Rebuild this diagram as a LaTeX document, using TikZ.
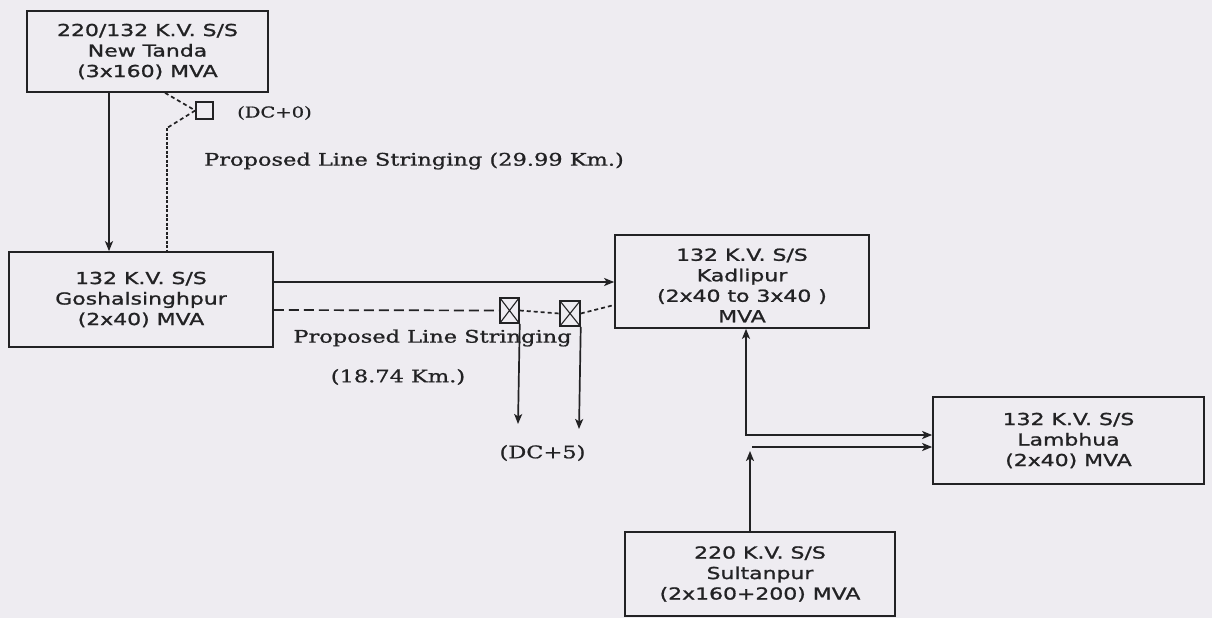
\documentclass[tikz,border=0pt]{standalone}
\usepackage{fontspec}
\usetikzlibrary{arrows.meta}
\newfontfamily\boxfont[FakeStretch=1.33,FakeBold=1.2]{DejaVu Sans}
\newfontfamily\labfont[FakeStretch=1.3,FakeBold=1.0]{DejaVu Serif}
\definecolor{bg}{RGB}{238,236,241}
\definecolor{ink}{RGB}{34,34,36}
\begin{document}
\begin{tikzpicture}[x=1pt,y=-1pt,
  box/.style={draw=ink, line width=1.7pt, inner sep=0pt, align=center,
    font=\boxfont\fontsize{16.5}{20.5}\selectfont, text=ink},
  lab/.style={inner sep=0pt, font=\labfont\fontsize{17.3}{20}\selectfont, text=ink},
  smalllab/.style={inner sep=0pt, font=\labfont\fontsize{15}{16}\selectfont, text=ink},
  conn/.style={draw=ink, line width=1.7pt},
  tip/.style={-{Stealth[length=10pt,width=8pt,inset=2.5pt]}},
  bothtips/.style={{Stealth[length=10pt,width=8pt,inset=2.5pt]}-{Stealth[length=10pt,width=8pt,inset=2.5pt]}},
  longdash/.style={dash pattern=on 10pt off 5pt},
  shortdash/.style={dash pattern=on 4pt off 3pt},
  densedot/.style={dash pattern=on 3pt off 1.5pt},
  sqbox/.style={draw=ink, line width=1.5pt, inner sep=0pt},
  xbox/.style={sqbox, path picture={
    \draw[ink, line width=1.1pt] (path picture bounding box.north west) -- (path picture bounding box.south east)
      (path picture bounding box.north east) -- (path picture bounding box.south west);}}
]
\fill[bg] (0,0) rectangle (1212,618);
\useasboundingbox (0,0) rectangle (1212,618);

% substations
\node[box, minimum width=241pt, minimum height=81pt] (tanda) at (147.5,51.5)
  {220/132 K.V. S/S\\New Tanda\\(3x160) MVA};
\node[box, minimum width=264pt, minimum height=95pt] (gosh) at (141,299.5)
  {132 K.V. S/S\\Goshalsinghpur\\(2x40) MVA};
\node[box, minimum width=254pt, minimum height=93pt] (kad) at (742,281.5)
  {\rule{0pt}{20pt}132 K.V. S/S\\Kadlipur\\(2x40 to 3x40 )\\MVA};
\node[box, minimum width=271pt, minimum height=87pt] (lamb) at (1068.5,440.5)
  {132 K.V. S/S\\Lambhua\\(2x40) MVA};
\node[box, minimum width=270pt, minimum height=84pt] (sult) at (760,574)
  {220 K.V. S/S\\Sultanpur\\(2x160+200) MVA};

% small boxes
\node[sqbox, minimum width=17pt, minimum height=17pt] (sq0) at (204.5,110.5) {};
\node[xbox, minimum width=19pt, minimum height=25pt] (sq1) at (509.5,310.5) {};
\node[xbox, minimum width=20pt, minimum height=25pt] (sq2) at (570,313.5) {};

% labels
\node[smalllab] (dc0) at (274.5,113) {(DC+0)};
\node[lab] (pls1) at (414,161) {Proposed Line Stringing (29.99 Km.)};
\node[lab] (pls2) at (432.5,338) {Proposed Line Stringing};
\node[lab] (km2) at (398,377) {(18.74 Km.)};
\node[lab] (dc5) at (542.5,453) {(DC+5)};

% helper coordinates
\coordinate (x109) at (109,0);
\coordinate (x165) at (165,0);
\coordinate (kink) at (167,128);
\coordinate (ysolid) at (0,282);
\coordinate (ydash) at (0,310);
\coordinate (kadin) at (0,305);
\coordinate (end1) at (518,424);
\coordinate (end2) at (579,429);
\coordinate (corner) at (746,435);
\coordinate (sulttip) at (750,451);
\coordinate (sultline) at (752,447);

% New Tanda -> Goshalsinghpur
\draw[conn,tip] (tanda.south -| x109) -- (gosh.north -| x109);
% proposed line via DC+0
\draw[conn,shortdash] (tanda.south -| x165) -- (sq0.west);
\draw[conn,shortdash] (sq0.west) -- (kink);
\draw[conn,densedot] (kink) -- (gosh.north -| kink);

% Goshalsinghpur -> Kadlipur
\draw[conn,tip] (gosh.east |- ysolid) -- (kad.west |- ysolid);
\draw[conn,longdash] (gosh.east |- ydash) -- (sq1.west);
\draw[conn,shortdash] (sq1.east) -- (sq2.west);
\draw[conn,shortdash] (sq2.east) -- (kad.west |- kadin);
\draw[conn,tip] (sq1.south east) -- (end1);
\draw[conn,tip] (sq2.south east) -- (end2);

% Kadlipur / Lambhua
\draw[conn,bothtips] (kad.south -| corner) -- (corner) -- (lamb.west |- corner);
% Sultanpur
\draw[conn,tip] (sult.north -| sulttip) -- (sulttip);
\draw[conn,tip] (sultline) -- (lamb.west |- sultline);
\end{tikzpicture}
\end{document}
